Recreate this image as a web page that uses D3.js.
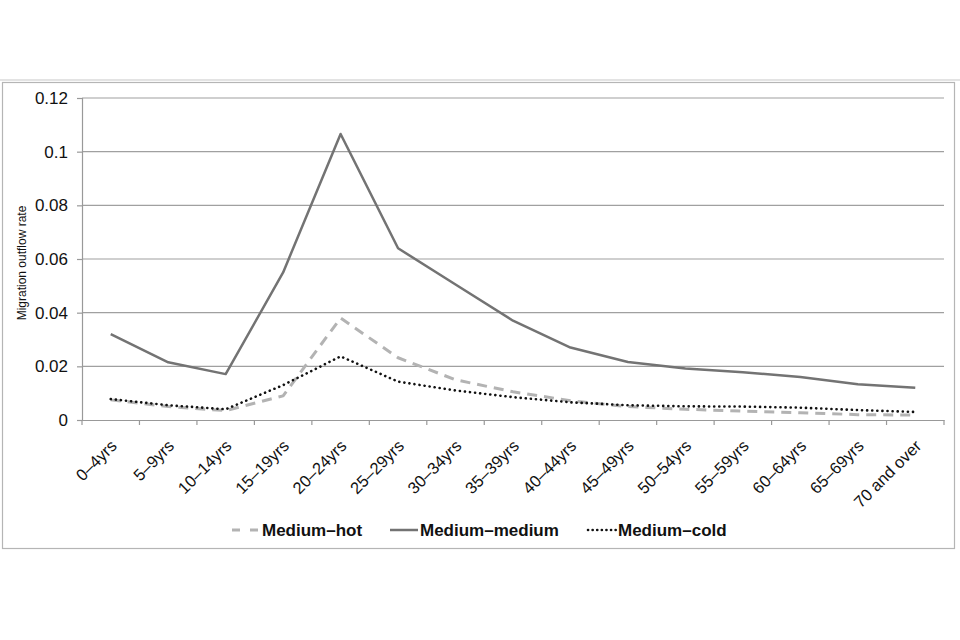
<!DOCTYPE html>
<html lang="en">
<head>
  <meta charset="UTF-8" />
  <title>Migration outflow rate</title>
  <style>
    html, body { margin: 0; padding: 0; background: #fff; }
    svg { display: block; font-family: "Liberation Sans", Arial, sans-serif; }
  </style>
</head>
<body>
<svg id="chart" width="960" height="640"></svg>
<script src="https://d3js.org/d3.v7.min.js"></script>
<script>
  // age bands
  const categories = ["0–4yrs", "5–9yrs", "10–14yrs", "15–19yrs", "20–24yrs", "25–29yrs", "30–34yrs",
    "35–39yrs", "40–44yrs", "45–49yrs", "50–54yrs", "55–59yrs", "60–64yrs", "65–69yrs", "70 and over"];

  const mediumHot = [0.0075, 0.005, 0.0035, 0.009, 0.038, 0.0232, 0.015, 0.0105, 0.0072, 0.005, 0.004, 0.0033, 0.0027, 0.002, 0.0018];
  const mediumMedium = [0.032, 0.0215, 0.0171, 0.055, 0.1066, 0.064, 0.0505, 0.037, 0.027, 0.0216, 0.0192, 0.0178, 0.016, 0.0133, 0.012];
  const mediumCold = [0.0078, 0.0055, 0.004, 0.013, 0.0237, 0.0143, 0.011, 0.0085, 0.0066, 0.0055, 0.0051, 0.005, 0.0046, 0.0037, 0.003];

  const yTicks = [0, 0.02, 0.04, 0.06, 0.08, 0.1, 0.12];
  const yTickLabels = ["0", "0.02", "0.04", "0.06", "0.08", "0.1", "0.12"];

  const series = [
    { name: "Medium–hot", values: mediumHot, color: "#b3b3b3", width: 3, dash: "10,7", cap: "butt" },
    { name: "Medium–medium", values: mediumMedium, color: "#737373", width: 2.5, dash: null, cap: "butt" },
    { name: "Medium–cold", values: mediumCold, color: "#111", width: 2.6, dash: "0.1,5", cap: "round" }
  ];

  const svg = d3.select("#chart");
  const plotLeft = 82, plotRight = 944, plotTop = 98, plotBottom = 420;

  // outer frame
  svg.append("line")
    .attr("x1", 0).attr("x2", 960).attr("y1", 80).attr("y2", 80)
    .attr("stroke", "#c8c8c8").attr("stroke-width", 1.2);
  svg.append("rect")
    .attr("x", 2.5).attr("y", 82.5).attr("width", 952).attr("height", 466)
    .attr("fill", "none").attr("stroke", "#b5b5b5").attr("stroke-width", 1.2);

  const x = d3.scaleBand().domain(categories).range([plotLeft, plotRight]);
  const y = d3.scaleLinear().domain([0, 0.12]).range([plotBottom, plotTop]);

  // gridlines
  svg.append("g").selectAll("line")
    .data(yTicks.slice(1))
    .enter().append("line")
    .attr("x1", plotLeft).attr("x2", plotRight)
    .attr("y1", d => y(d)).attr("y2", d => y(d))
    .attr("stroke", "#a0a0a0").attr("stroke-width", 1.2);

  // y axis
  const yAxis = svg.append("g")
    .attr("transform", `translate(${plotLeft},0)`)
    .call(d3.axisLeft(y).tickValues(yTicks).tickSize(5).tickPadding(9)
      .tickFormat((d, i) => yTickLabels[i]));
  yAxis.select(".domain").attr("stroke", "#999").attr("stroke-width", 1.2);
  yAxis.selectAll(".tick line").attr("stroke", "#999").attr("stroke-width", 1.2);
  yAxis.selectAll("text").attr("font-size", "17px").attr("fill", "#111")
    .attr("font-family", "Liberation Sans, Arial, sans-serif");

  // x axis
  const xAxis = svg.append("g")
    .attr("transform", `translate(0,${plotBottom})`)
    .call(d3.axisBottom(x).tickSize(0).tickFormat(""));
  xAxis.select(".domain").attr("stroke", "#999").attr("stroke-width", 1.2);

  const bounds = categories.map(c => x(c)).concat([plotRight]);
  svg.append("g").selectAll("line")
    .data(bounds)
    .enter().append("line")
    .attr("x1", d => d).attr("x2", d => d)
    .attr("y1", plotBottom).attr("y2", plotBottom + 5)
    .attr("stroke", "#999").attr("stroke-width", 1.2);

  svg.append("g").selectAll("text")
    .data(categories)
    .enter().append("text")
    .attr("transform", d => `translate(${x(d) + x.bandwidth() / 2 + 7},${plotBottom + 27}) rotate(-45)`)
    .attr("text-anchor", "end")
    .attr("font-size", "16.5px")
    .attr("fill", "#111")
    .text(d => d);

  // y axis title
  svg.append("text")
    .attr("transform", `translate(26,263) rotate(-90)`)
    .attr("text-anchor", "middle")
    .attr("font-size", "12px")
    .attr("fill", "#111")
    .text("Migration outflow rate");

  // lines
  const line = d3.line()
    .x((d, i) => x(categories[i]) + x.bandwidth() / 2)
    .y(d => y(d));

  series.forEach(s => {
    svg.append("path")
      .datum(s.values)
      .attr("fill", "none")
      .attr("stroke", s.color)
      .attr("stroke-width", s.width)
      .attr("stroke-dasharray", s.dash)
      .attr("stroke-linecap", s.cap)
      .attr("stroke-linejoin", "round")
      .attr("d", line);
  });

  // legend
  const legendX = [232, 390, 588];
  const legend = svg.append("g").selectAll("g")
    .data(series)
    .enter().append("g")
    .attr("transform", (d, i) => `translate(${legendX[i]},530)`);

  legend.append("line")
    .attr("x1", 0).attr("x2", 28).attr("y1", 0).attr("y2", 0)
    .attr("stroke", d => d.color)
    .attr("stroke-width", d => d.width)
    .attr("stroke-dasharray", d => d.dash ? (d.cap === "round" ? "0.1,4.5" : "8,10") : null)
    .attr("stroke-linecap", d => d.cap);

  legend.append("text")
    .attr("x", 30).attr("y", 0).attr("dy", "0.35em")
    .attr("font-size", "17px")
    .attr("font-weight", "bold")
    .attr("fill", "#111")
    .text(d => d.name);
</script>
</body>
</html>
